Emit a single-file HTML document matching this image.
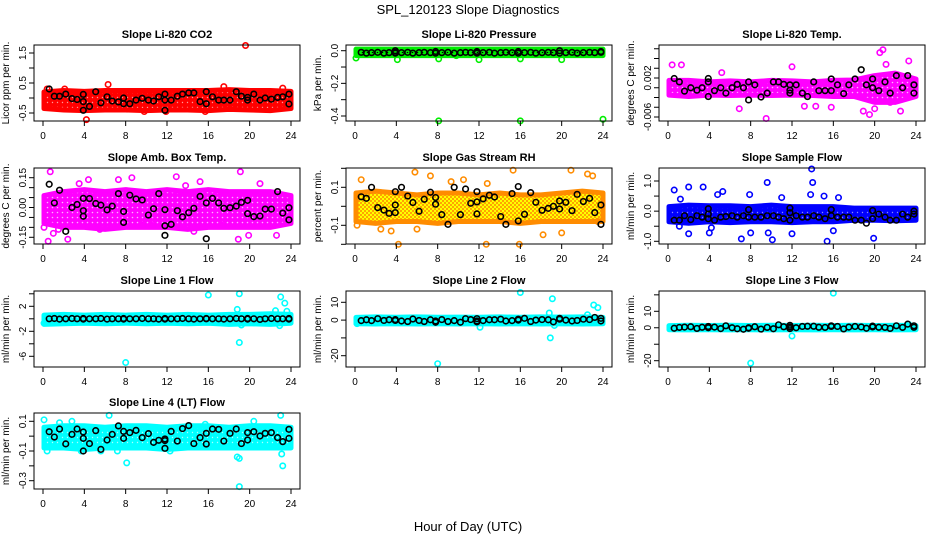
<!DOCTYPE html>
<html><head><meta charset="utf-8"><style>
html,body{margin:0;padding:0;background:#fff;}
svg{display:block;font-family:"Liberation Sans",Arial,sans-serif;}
</style></head><body>
<svg id="chart" width="936" height="540" viewBox="0 0 936 540" xmlns="http://www.w3.org/2000/svg">
<defs>
<pattern id="pRed" width="5" height="5" patternUnits="userSpaceOnUse"><rect width="5" height="5" fill="#ff0000"/><circle cx="2.5" cy="2.5" r="0.7" fill="#ff9999"/></pattern>
<pattern id="pGreen" width="5" height="5" patternUnits="userSpaceOnUse"><rect width="5" height="5" fill="#00ee00"/><circle cx="2.5" cy="2.5" r="0.8" fill="#000"/></pattern>
<pattern id="pMag" width="5" height="5" patternUnits="userSpaceOnUse"><rect width="5" height="5" fill="#ff00ff"/><circle cx="2.5" cy="2.5" r="0.8" fill="#ffb0ff"/></pattern>
<pattern id="pOrange" width="4" height="4" patternUnits="userSpaceOnUse"><rect width="4" height="4" fill="#ffa500"/><rect x="0" y="0" width="2" height="2" fill="#ffff00"/><rect x="2" y="2" width="2" height="2" fill="#ffff00"/></pattern>
<pattern id="pBlue" width="5" height="5" patternUnits="userSpaceOnUse"><rect width="5" height="5" fill="#0000ff"/><circle cx="2.5" cy="2.5" r="0.7" fill="#8888ff"/></pattern>
<pattern id="pCyan" width="5" height="5" patternUnits="userSpaceOnUse"><rect width="5" height="5" fill="#00ffff"/><circle cx="2.5" cy="2.5" r="0.7" fill="#aaffff"/></pattern>
</defs>
<text x="468" y="14" text-anchor="middle" font-size="13">SPL_120123  Slope Diagnostics</text>
<text x="468" y="531" text-anchor="middle" font-size="13">Hour of Day (UTC)</text>
</svg>
<script>
// shared hour of day for black (mean) points
const hours = [0.6,1.1,1.6,2.2,2.8,3.3,3.9,3.9,3.9,4.5,5.1,5.6,6.2,6.7,7.3,7.8,7.8,8.4,9.0,9.6,10.2,10.7,11.2,11.8,11.8,11.8,12.4,13.0,13.5,14.1,14.6,15.2,15.8,15.8,16.4,17.0,17.5,18.1,18.7,19.2,19.8,19.8,20.4,21.0,21.5,22.1,22.7,23.2,23.8,23.8];
const bandHours = [0.1,2,4,6,8,10,12,14,16,18,20,22,24];
const xTicks = [0,4,8,12,16,20,24];

const co2Mean = [0.30,0.06,0.06,0.13,-0.02,-0.05,0.12,-0.12,-0.41,-0.28,0.21,-0.16,0.04,-0.10,-0.13,0.00,-0.19,-0.19,-0.07,-0.01,-0.07,-0.10,0.04,0.13,-0.07,-0.41,-0.07,0.06,0.13,0.17,0.17,-0.12,0.21,-0.19,0.04,-0.07,-0.07,-0.07,0.21,0.06,0.02,-0.07,0.13,-0.07,0.00,-0.04,0.02,0.04,0.13,-0.20];
const co2Upper = [0.2,0.25,0.22,0.25,0.25,0.25,0.25,0.25,0.25,0.28,0.25,0.25,0.22];
const co2Lower = [-0.35,-0.4,-0.42,-0.4,-0.4,-0.42,-0.4,-0.4,-0.42,-0.38,-0.4,-0.42,-0.35];
const co2OutX = [19.6,4.2,6.3,17.5,23.2,0.4,2.1,11.9,15.7,9.8];
const co2OutY = [1.75,-0.72,0.45,0.38,0.33,0.3,0.3,-0.45,-0.45,-0.45];

const presMean = [-0.01,-0.015,-0.012,-0.01,-0.015,-0.012,0.0,-0.01,-0.015,-0.012,-0.01,-0.015,-0.012,-0.01,-0.012,-0.005,-0.015,-0.012,-0.01,-0.015,-0.012,-0.01,-0.012,-0.005,-0.01,-0.015,-0.012,-0.01,-0.015,-0.012,-0.01,-0.012,-0.005,-0.015,-0.012,-0.01,-0.015,-0.012,-0.01,-0.012,0.0,-0.015,-0.012,-0.01,-0.015,-0.012,-0.01,-0.012,-0.005,-0.01];
const presUpper = [0.01,0.01,0.01,0.01,0.01,0.01,0.01,0.01,0.01,0.01,0.01,0.01,0.01];
const presLower = [-0.03,-0.03,-0.03,-0.03,-0.03,-0.03,-0.03,-0.03,-0.03,-0.03,-0.03,-0.03,-0.03];
const presOutX = [0.1,4.1,8.1,9.8,12.0,16.0,20.0,8.1,16.0,24.0];
const presOutY = [-0.045,-0.055,-0.05,-0.03,-0.055,-0.05,-0.055,-0.43,-0.43,-0.42];

const tempMean = [0.0019,0.0012,-0.0007,0.0,-0.0005,0.0,0.0019,0.0012,-0.0018,-0.0006,0.0,-0.0011,0.0,0.0007,0.0,0.0012,-0.0025,0.0006,-0.0019,-0.0011,0.0012,0.0012,0.0007,-0.0005,-0.0011,0.0006,0.0006,-0.0011,-0.0018,0.0012,-0.0006,-0.0006,0.0018,-0.0006,0.0006,-0.0012,0.0006,0.0018,0.0037,0.0006,0.0,0.0018,-0.0006,0.0012,-0.0011,0.0025,0.0,0.0025,0.0006,-0.0011];
const tempUpper = [0.0015,0.0015,0.0012,0.0014,0.0012,0.0015,0.0014,0.0012,0.0015,0.0016,0.0025,0.003,0.0018];
const tempLower = [-0.0015,-0.0018,-0.0015,-0.0016,-0.0015,-0.0016,-0.0015,-0.0016,-0.0018,-0.0018,-0.003,-0.003,-0.0018];
const tempOutX = [20.5,20.8,21.1,23.3,0.4,1.3,9.5,6.9,19.5,18.9,22.5,12.0,5.2,15.8,13.2,14.3,21.5,20.0];
const tempOutY = [0.0072,0.0078,0.0048,0.0055,0.0047,0.0047,-0.0063,-0.0043,-0.0055,-0.0048,-0.0048,0.0043,0.0031,-0.004,-0.0038,-0.0038,-0.003,-0.0043];

const ambMean = [0.117,0.023,0.087,-0.12,0.0,0.015,0.046,-0.016,-0.044,0.045,0.02,0.012,-0.012,0.007,0.07,-0.02,-0.075,0.062,0.043,0.038,-0.038,-0.006,0.07,-0.011,-0.092,-0.14,-0.085,-0.016,-0.047,-0.026,-0.004,0.056,0.023,-0.157,0.046,0.023,-0.004,-0.001,0.007,0.026,0.036,-0.031,-0.046,-0.043,-0.008,-0.008,0.08,-0.028,-0.001,-0.062];
const ambUpper = [0.06,0.08,0.09,0.08,0.09,0.08,0.09,0.08,0.09,0.08,0.08,0.08,0.06];
const ambLower = [-0.08,-0.1,-0.1,-0.11,-0.1,-0.1,-0.1,-0.11,-0.1,-0.1,-0.1,-0.1,-0.08];
const ambOutX = [0.7,0.1,0.5,1.0,2.4,4.4,7.3,8.6,12.9,15.2,19.1,18.9,19.9,22.6,14.6,17.3,9.6,5.5,3.5,10.5,21.0,1.5,13.8];
const ambOutY = [0.18,-0.1,-0.17,-0.13,-0.16,0.14,0.14,0.15,0.155,0.13,0.18,-0.16,-0.14,-0.14,-0.12,-0.09,-0.09,-0.11,0.12,-0.09,0.12,-0.11,0.11];

const rhMean = [0.05,0.042,0.1,-0.007,-0.02,-0.037,0.077,0.007,-0.033,0.1,0.054,0.02,-0.026,0.037,0.074,0.046,0.011,-0.044,-0.095,0.1,-0.044,0.091,0.016,0.077,0.023,-0.04,0.039,0.058,0.049,-0.054,-0.095,0.067,0.104,-0.077,-0.042,0.072,0.021,-0.021,-0.011,0.0,0.028,-0.014,0.021,-0.023,0.063,0.025,0.042,-0.033,0.007,-0.095];
const rhUpper = [0.07,0.08,0.07,0.06,0.07,0.07,0.06,0.07,0.06,0.06,0.07,0.08,0.07];
const rhLower = [-0.08,-0.09,-0.08,-0.08,-0.09,-0.08,-0.08,-0.08,-0.09,-0.08,-0.08,-0.08,-0.08];
const rhOutX = [0.2,0.6,3.5,4.2,5.8,7.3,9.3,10.5,12.7,12.8,15.3,15.9,18.2,20.9,20.0,22.5,23.0,23.5,2.5,6.0];
const rhOutY = [-0.1,0.14,-0.13,-0.2,0.18,0.16,0.13,0.14,-0.2,0.12,0.19,-0.2,-0.15,0.19,-0.14,0.17,0.16,-0.08,-0.12,-0.12];

const flowMean = [-0.3,-0.3,-0.15,-0.28,-0.15,-0.2,0.08,-0.1,-0.25,-0.3,-0.2,-0.18,-0.15,-0.2,-0.15,0.05,-0.2,-0.2,-0.2,-0.15,-0.15,-0.2,-0.25,0.1,-0.05,-0.3,-0.15,-0.2,-0.2,-0.15,-0.2,-0.25,0.05,-0.15,-0.2,-0.2,-0.2,-0.3,-0.3,-0.4,0.02,-0.25,-0.1,-0.2,-0.3,-0.3,-0.1,-0.2,-0.1,0.0];
const flowUpper = [0.15,0.2,0.18,0.18,0.15,0.2,0.15,0.15,0.15,0.1,0.1,0.1,0.1];
const flowLower = [-0.35,-0.4,-0.35,-0.38,-0.35,-0.35,-0.38,-0.35,-0.35,-0.3,-0.3,-0.32,-0.3];
const flowOutX = [0.6,1.2,2.0,3.4,2.0,4.0,4.2,4.8,5.3,7.1,7.9,8.0,9.6,9.7,10.1,13.9,14.0,13.8,15.4,15.1,16.5,16.0,19.9,12.0,11.0,1.1];
const flowOutY = [0.7,0.4,0.8,0.8,-0.75,-0.72,-0.55,0.55,0.65,-0.92,0.55,-0.72,0.95,-0.72,-0.95,1.4,0.95,0.55,-1.0,0.5,0.45,-0.65,-0.9,-0.75,0.45,-0.5];

const l1Mean = [0.0,0.05,-0.05,0.0,0.05,0.0,0.05,0.0,-0.05,0.0,0.0,0.05,-0.05,0.0,0.0,0.05,-0.05,0.0,0.0,0.05,0.0,0.0,-0.05,0.0,0.05,-0.05,0.0,0.0,0.05,0.0,-0.05,0.0,0.05,0.0,0.0,0.0,-0.05,0.0,0.05,0.0,0.05,-0.05,0.0,-0.1,0.0,0.05,0.0,0.0,0.05,-0.05];
const l1Upper = [0.6,0.7,0.6,0.7,0.6,0.7,0.6,0.7,0.6,0.7,0.7,0.8,0.7];
const l1Lower = [-0.9,-0.8,-0.7,-0.8,-0.7,-0.8,-0.7,-0.8,-0.7,-0.9,-0.8,-0.9,-0.7];
const l1OutX = [16,19,23,23.4,23.6,22.5,18.8,19,8,0.1,19.2,22.9];
const l1OutY = [3.8,4.0,3.5,2.5,1.2,1.3,1.5,-3.8,-7.0,-0.7,-1.0,-1.1];

const l2Mean = [-0.3,0.2,-0.3,0.8,-0.2,0.2,0.3,-0.2,0.0,-0.5,-0.8,0.6,-0.2,-0.8,0.2,-0.5,-1.2,0.3,-0.8,-0.3,-1.2,0.8,0.3,0.8,-0.5,-1.0,-0.3,0.2,0.2,0.5,-0.5,-0.3,0.5,0.0,1.0,-0.8,0.0,0.3,0.2,-1.0,0.5,1.0,0.0,-0.5,-0.2,0.5,0.3,1.5,1.0,-0.5];
const l2Upper = [1.5,1.8,1.6,1.8,1.6,1.7,1.6,1.8,1.6,1.8,1.7,1.8,1.5];
const l2Lower = [-2.0,-2.2,-2.0,-2.2,-2.0,-2.2,-2.0,-2.2,-2.0,-2.2,-2.0,-2.2,-2.0];
const l2OutX = [16,19.1,18.8,18.9,23.1,23.5,22.5,12.1,8.0,0.2,19.3];
const l2OutY = [15.5,12,4,-10,8.5,7,3,-4,-24.5,-2,-3];

const l3Mean = [-0.3,0.2,0.4,0.6,-0.4,0.3,0.8,0.3,0.0,0.4,-0.5,1.2,0.0,-0.6,-0.9,-0.3,0.0,0.6,-0.8,0.2,-0.6,1.8,0.6,1.5,0.5,-0.5,0.0,0.8,0.9,0.9,0.3,0.2,0.8,1.2,0.8,-0.7,0.4,0.8,0.5,-0.3,0.5,1.0,0.3,0.2,-0.4,1.2,0.2,2.2,1.2,0.3];
const l3Upper = [1.3,1.5,1.4,1.5,1.4,1.5,1.4,1.5,1.4,1.5,1.4,1.5,1.3];
const l3Lower = [-1.2,-1.3,-1.2,-1.3,-1.2,-1.3,-1.2,-1.3,-1.2,-1.3,-1.2,-1.3,-1.2];
const l3OutX = [16,12,8,23.3];
const l3OutY = [21,-5,-21.5,2];

const l4Mean = [0.03,-0.006,0.048,-0.052,0.012,0.048,-0.015,0.028,-0.1,-0.05,0.037,-0.089,-0.026,0.012,0.069,0.032,-0.015,0.024,0.039,-0.01,0.017,-0.042,-0.028,-0.019,-0.03,-0.082,0.032,-0.033,0.051,0.071,-0.05,-0.01,0.019,-0.053,0.048,0.046,-0.033,0.019,0.048,-0.05,0.024,-0.026,0.03,0.001,0.019,0.024,-0.01,-0.037,0.046,-0.015];
const l4Upper = [0.06,0.07,0.07,0.06,0.07,0.07,0.06,0.07,0.07,0.06,0.07,0.07,0.06];
const l4Lower = [-0.08,-0.08,-0.09,-0.08,-0.08,-0.08,-0.09,-0.08,-0.08,-0.08,-0.08,-0.08,-0.08];
const l4OutX = [0.1,0.4,1.6,2.8,5.6,6.4,7.2,8.1,12.3,18.8,19.0,19.0,23.0,23.2,23.1,20.4,15.7,3.7];
const l4OutY = [0.11,-0.1,0.09,0.1,-0.1,0.14,-0.1,-0.18,-0.1,-0.14,-0.15,-0.34,0.14,-0.2,-0.12,0.1,0.08,-0.1];

const panels = [
 {id:'co2', title:'Slope Li-820 CO2', ylab:'Licor ppm per min.', col:0,row:0, cal:[1.5,53,-0.5,113], ticks:[-0.5,0,0.5,1,1.5], labels:['-0.5','','0.5','','1.5'], fill:'url(#pRed)', color:'#ff0000', mean:co2Mean, up:co2Upper, lo:co2Lower, ox:co2OutX, oy:co2OutY},
 {id:'pressure', title:'Slope Li-820 Pressure', ylab:'kPa per min.', col:1,row:0, cal:[0,50.7,-0.4,116], ticks:[0,-0.1,-0.2,-0.3,-0.4], labels:['0.0','','-0.2','','-0.4'], fill:'url(#pGreen)', color:'#00ee00', mean:presMean, up:presUpper, lo:presLower, ox:presOutX, oy:presOutY},
 {id:'temp', title:'Slope Li-820 Temp.', ylab:'degrees C per min.', col:2,row:0, cal:[0.002,78,-0.006,117], ticks:[0.008,0.006,0.004,0.002,0,-0.002,-0.004,-0.006], labels:['','','','0.002','','','','-0.006'], fill:'url(#pMag)', color:'#ff00ff', mean:tempMean, up:tempUpper, lo:tempLower, ox:tempOutX, oy:tempOutY},
 {id:'amb-box-temp', title:'Slope Amb. Box Temp.', ylab:'degrees C per min.', col:0,row:1, cal:[0.15,177.7,-0.15,237.3], ticks:[0.15,0.1,0.05,0,-0.05,-0.1,-0.15], labels:['0.15','','','0.00','','','-0.15'], fill:'url(#pMag)', color:'#ff00ff', mean:ambMean, up:ambUpper, lo:ambLower, ox:ambOutX, oy:ambOutY},
 {id:'gas-rh', title:'Slope Gas Stream RH', ylab:'percent per min.', col:1,row:1, cal:[0.1,187.3,-0.1,225.3], ticks:[0.2,0.1,0,-0.1,-0.2], labels:['','0.1','','-0.1',''], fill:'url(#pOrange)', color:'#ff8c00', mean:rhMean, up:rhUpper, lo:rhLower, ox:rhOutX, oy:rhOutY},
 {id:'sample-flow', title:'Slope Sample Flow', ylab:'ml/min per min.', col:2,row:1, cal:[1,181,-1,241.3], ticks:[1,0.5,0,-0.5,-1], labels:['1.0','','0.0','','-1.0'], fill:'url(#pBlue)', color:'#0000ff', mean:flowMean, up:flowUpper, lo:flowLower, ox:flowOutX, oy:flowOutY},
 {id:'line1-flow', title:'Slope Line 1 Flow', ylab:'ml/min per min.', col:0,row:2, cal:[2,306.3,-6,356.3], ticks:[4,2,0,-2,-4,-6,-8], labels:['','2','','-2','','-6',''], fill:'url(#pCyan)', color:'#00ffff', mean:l1Mean, up:l1Upper, lo:l1Lower, ox:l1OutX, oy:l1OutY},
 {id:'line2-flow', title:'Slope Line 2 Flow', ylab:'ml/min per min.', col:1,row:2, cal:[10,302.3,-20,355.7], ticks:[10,0,-10,-20], labels:['10','0','','-20'], fill:'url(#pCyan)', color:'#00ffff', mean:l2Mean, up:l2Upper, lo:l2Lower, ox:l2OutX, oy:l2OutY},
 {id:'line3-flow', title:'Slope Line 3 Flow', ylab:'ml/min per min.', col:2,row:2, cal:[10,311.3,-20,360.7], ticks:[20,10,0,-10,-20], labels:['','10','0','','-20'], fill:'url(#pCyan)', color:'#00ffff', mean:l3Mean, up:l3Upper, lo:l3Lower, ox:l3OutX, oy:l3OutY},
 {id:'line4-flow', title:'Slope Line 4 (LT) Flow', ylab:'ml/min per min.', col:0,row:3, cal:[0.1,421.3,-0.3,480.7], ticks:[0.1,0,-0.1,-0.2,-0.3], labels:['0.1','','-0.1','','-0.3'], fill:'url(#pCyan)', color:'#00ffff', mean:l4Mean, up:l4Upper, lo:l4Lower, ox:l4OutX, oy:l4OutY}
];

const NS='http://www.w3.org/2000/svg';
const svg=document.getElementById('chart');
const colLeft=[34,346,659], rowTop=[45,168,291,413], BW=266, BH=76;
function mk(tag, attrs, parent){const e=document.createElementNS(NS,tag);for(const k in attrs)e.setAttribute(k,attrs[k]);(parent||svg).appendChild(e);return e;}

panels.forEach(p=>{
  const L=colLeft[p.col], T=rowTop[p.row], R=L+BW, B=T+BH;
  const xs=h=>L+9+h*(BW-18)/24;
  const [v1,y1,v2,y2]=p.cal;
  const ys=v=>y1+(v-v1)*(y2-y1)/(v2-v1);
  const g=mk('g',{});
  
  
  const clipId='clip-'+p.id;
  const cp=mk('clipPath',{id:clipId},g);
  mk('rect',{x:L-4,y:T-4,width:BW+8,height:BH+8},cp);
  const t=mk('text',{x:(L+R)/2,y:T-7,'text-anchor':'middle','font-size':'11','font-weight':'bold'},g);
  t.textContent=p.title;
  
  
  const yl=mk('text',{x:0,y:0,'text-anchor':'middle','font-size':'10',transform:`translate(${L-25},${(T+B)/2}) rotate(-90)`},g);
  yl.textContent=p.ylab;
  
  
  const data=mk('g',{'clip-path':`url(#${clipId})`},g);
  
  
  let d='';
  p.up.forEach((v,i)=>{d+=(i?'L':'M')+xs(bandHours[i]).toFixed(1)+','+ys(v).toFixed(1);});
  for(let i=p.lo.length-1;i>=0;i--) d+='L'+xs(bandHours[i]).toFixed(1)+','+ys(p.lo[i]).toFixed(1);
  const band=mk('path',{d:d+'Z',fill:p.fill,stroke:p.color,'stroke-width':'5','stroke-linejoin':'round'},data);
  
  
  p.ox.forEach((x,i)=>{
    const c=mk('circle',{cx:xs(x),cy:ys(p.oy[i]),r:2.7,fill:'none',stroke:p.color,'stroke-width':1.6},data);
    
    
  });
  p.mean.forEach((v,i)=>{
    const c=mk('circle',{cx:xs(hours[i]),cy:ys(v),r:2.8,fill:'none',stroke:'#000','stroke-width':1.6},data);
    
    
  });
  const box=mk('rect',{x:L,y:T,width:BW,height:BH,fill:'none',stroke:'#000','stroke-width':1},g);
  
  
  xTicks.forEach(h=>{
    mk('line',{x1:xs(h),x2:xs(h),y1:B,y2:B+5,stroke:'#000'},g);
    const tl=mk('text',{x:xs(h),y:B+18,'text-anchor':'middle','font-size':'10'},g);
    tl.textContent=h;
    
    
  });
  p.ticks.forEach((v,i)=>{
    const y=ys(v); if(y<T-1||y>B+1) return;
    mk('line',{x1:L-5,x2:L,y1:y,y2:y,stroke:'#000'},g);
    if(p.labels[i]){
      const tl=mk('text',{x:0,y:0,'text-anchor':'middle','font-size':'10',transform:`translate(${L-8},${y}) rotate(-90)`},g);
      tl.textContent=p.labels[i];
      
      
    }
  });
});
</script>
</body></html>
